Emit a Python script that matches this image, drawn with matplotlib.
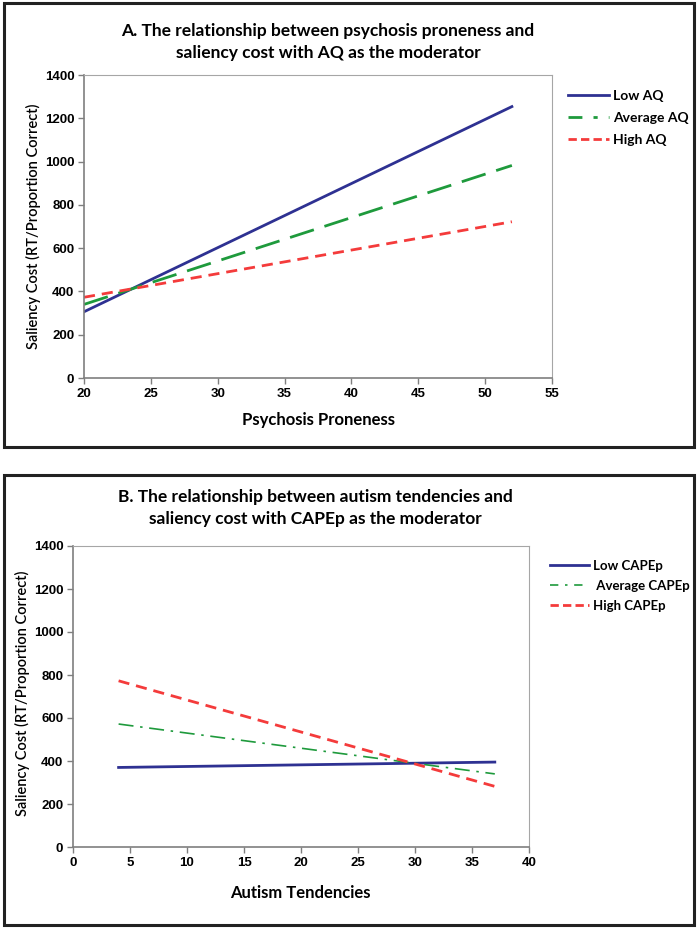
import matplotlib
matplotlib.use('Agg')
import matplotlib.pyplot as plt
from matplotlib.patches import Rectangle

# Panel A data: psychosis proneness vs saliency cost, AQ as moderator
pp_x = [20, 52]
low_aq = [306, 1254]
avg_aq = [340, 982]
high_aq = [373, 722]

# Panel B data: autism tendencies vs saliency cost, CAPEp as moderator
at_x = [4, 37]
low_cape = [370, 395]
avg_cape = [572, 340]
high_cape = [773, 282]

NAVY = '#2E3192'
GREEN = '#1E9A3C'
RED = '#F43B3B'
GRAY = '#7F7F7F'

TITLE_FONT = ['Lato', 'DejaVu Sans']
TICK_FONT = ['Liberation Sans', 'DejaVu Sans']

fig = plt.figure(figsize=(7, 9.3), dpi=100)


def px(x, y):
    """pixel coords (top-left origin) -> figure fraction"""
    return x / 700, 1 - y / 930


def panel_box(x0, y0, x1, y1):
    fx0, fy1 = px(x0, y0)
    fx1, fy0 = px(x1, y1)
    fig.patches.append(Rectangle((fx0, fy0), fx1 - fx0, fy1 - fy0, transform=fig.transFigure,
                                 fill=False, edgecolor='#222222', linewidth=2.2))


def style_axes(ax, xlim, xticks):
    ax.set_xlim(*xlim)
    ax.set_ylim(0, 1400)
    ax.set_xticks(xticks)
    ax.set_yticks(range(0, 1401, 200))
    for side in ['top', 'right']:
        ax.spines[side].set_color('#A6A6A6')
        ax.spines[side].set_linewidth(0.8)
    for side in ['left', 'bottom']:
        ax.spines[side].set_color(GRAY)
        ax.spines[side].set_linewidth(1.2)
    ax.tick_params(direction='out', length=4, width=1.0, color=GRAY, pad=3)
    for lab in ax.get_xticklabels() + ax.get_yticklabels():
        lab.set_family(TICK_FONT)
        lab.set_fontweight('bold')
        lab.set_fontsize(9.5)


def add_axes_px(x0, y0, x1, y1):
    fx0, fy1 = px(x0, y0)
    fx1, fy0 = px(x1, y1)
    return fig.add_axes([fx0, fy0, fx1 - fx0, fy1 - fy0])


# ---------------- Panel A ----------------
panel_box(4, 3, 694, 447)
axA = add_axes_px(84, 75, 552, 378)
axA.plot(pp_x, low_aq, color=NAVY, lw=2, label='Low AQ')
axA.plot(pp_x, avg_aq, color=GREEN, lw=2, dashes=(9, 4), label='Average AQ')
axA.plot(pp_x, high_aq, color=RED, lw=2, dashes=(4, 2.5), label='High AQ')
style_axes(axA, (20, 55), range(20, 56, 5))

h = [plt.Line2D([], [], color=NAVY, lw=2),
     plt.Line2D([], [], color=GREEN, lw=2, dashes=(5, 4, 1.5, 4)),
     plt.Line2D([], [], color=RED, lw=2, dashes=(3, 1.5))]
fig.legend(h, ['Low AQ', 'Average AQ', 'High AQ'], loc='upper left',
           bbox_to_anchor=px(555, 77), frameon=False, handlelength=3.0, handletextpad=0.3,
           labelspacing=0.75, prop={'family': TITLE_FONT, 'weight': 'bold', 'size': 10})

fig.text(*px(328, 31), 'A. The relationship between psychosis proneness and',
         ha='center', va='center', fontsize=12.5, fontweight='bold', family=TITLE_FONT)
fig.text(*px(328, 53), 'saliency cost with AQ as the moderator',
         ha='center', va='center', fontsize=12.5, fontweight='bold', family=TITLE_FONT)
fig.text(*px(318, 420), 'Psychosis Proneness', ha='center', va='center',
         fontsize=12, fontweight='bold', family=TITLE_FONT)
fig.text(*px(33, 226), 'Saliency Cost (RT/Proportion Correct)', ha='center', va='center',
         rotation=90, fontsize=10.5, fontweight='semibold', family=TITLE_FONT)

# ---------------- Panel B ----------------
panel_box(4, 475, 694, 925)
axB = add_axes_px(73, 546, 529, 847)
axB.plot(at_x, low_cape, color=NAVY, lw=2, label='Low CAPEp')
axB.plot(at_x, avg_cape, color=GREEN, lw=1.2, dashes=(9, 4, 1.5, 4), label='Average CAPEp')
axB.plot(at_x, high_cape, color=RED, lw=2, dashes=(4, 2.5), label='High CAPEp')
style_axes(axB, (0, 40), range(0, 41, 5))

h = [plt.Line2D([], [], color=NAVY, lw=2),
     plt.Line2D([], [], color=GREEN, lw=1.2, dashes=(5, 4, 1.5, 4)),
     plt.Line2D([], [], color=RED, lw=2, dashes=(3, 1.5))]
fig.legend(h, ['Low CAPEp', ' Average CAPEp', 'High CAPEp'], loc='upper left',
           bbox_to_anchor=px(538, 548), frameon=False, handlelength=3.0, handletextpad=0.3,
           labelspacing=0.6, prop={'family': TITLE_FONT, 'weight': 'bold', 'size': 9.5})

fig.text(*px(315, 497), 'B. The relationship between autism tendencies and',
         ha='center', va='center', fontsize=12.5, fontweight='bold', family=TITLE_FONT)
fig.text(*px(315, 519), 'saliency cost with CAPEp as the moderator',
         ha='center', va='center', fontsize=12.5, fontweight='bold', family=TITLE_FONT)
fig.text(*px(300, 893), 'Autism Tendencies', ha='center', va='center',
         fontsize=12, fontweight='bold', family=TITLE_FONT)
fig.text(*px(22, 693), 'Saliency Cost (RT/Proportion Correct)', ha='center', va='center',
         rotation=90, fontsize=10.5, fontweight='semibold', family=TITLE_FONT)

fig.savefig('out.png', dpi=100)
